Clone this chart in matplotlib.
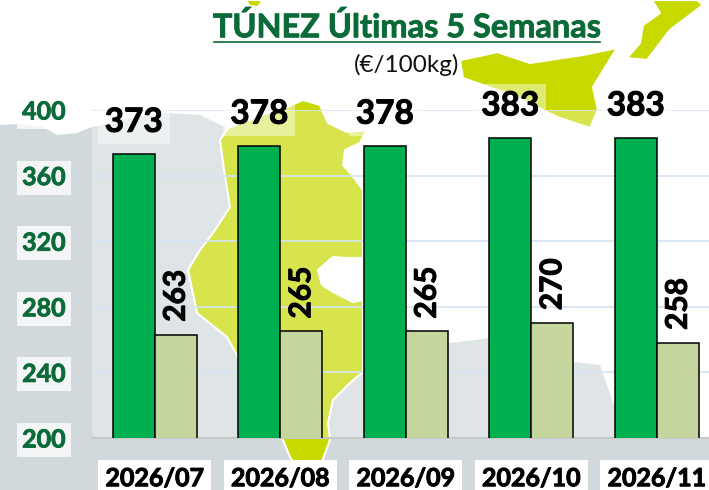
import matplotlib
matplotlib.use('Agg')
import matplotlib.pyplot as plt
import matplotlib.patheffects as pe
from matplotlib.patches import Polygon, Rectangle
import numpy as np

plt.rcParams['font.family'] = ['Lato', 'DejaVu Sans']

weeks = ['2026/07', '2026/08', '2026/09', '2026/10', '2026/11']
serie1 = [373, 378, 378, 383, 383]
serie2 = [263, 265, 265, 270, 258]
yticks = [200, 240, 280, 320, 360, 400]

GREEN = '#0B6B38'
GREY = '#D2D9DC'
LAND = '#C8D900'

# background map, in image pixels
west = [(0,125),(20,124),(43,127),(57,135),(77,133),(92,127),(130,118),(167,113),(200,115),(227,128),
        (300,300),(300,440),(0,490)]
libya = [(300,300),(360,325),(407,328),(450,343),(490,338),(530,350),(573,362),(600,365),(613,403),
         (650,437),(709,438),(709,490),(0,490),(0,300)]
tunisia = [(303,100),(320,105),(328,123),(347,132),(367,130),(360,143),(345,150),(343,165),(352,175),
           (363,190),(363,258),(345,258),(333,257),(318,270),(322,285),(335,293),(353,302),(363,300),
           (363,372),(350,383),(333,400),(328,423),(330,440),(320,467),(300,472),(290,457),(283,440),
           (262,400),(238,357),(227,337),(197,313),(188,270),(200,250),(213,233),(230,207),(224,170),
           (220,140),(228,128),(262,115),(285,108)]
sicily = [(460,60),(480,56),(497,52),(530,63),(583,55),(617,48),(593,87),(598,110),(590,128),(557,117),
          (517,97),(463,78)]
italy = [(652,0),(660,13),(643,25),(640,43),(627,58),(647,60),(670,30),(703,5),(697,0)]
islet = [(245,0),(250,6),(258,7),(263,0)]

fig = plt.figure(figsize=(7.09, 4.90), dpi=100)

bg = fig.add_axes([0, 0, 1, 1], zorder=0)
bg.set_xlim(0, 709)
bg.set_ylim(490, 0)
bg.axis('off')
bg.add_patch(Polygon(west, fc=GREY, ec='none'))
bg.add_patch(Polygon(libya, fc=GREY, ec='none'))
bg.add_patch(Rectangle((0, 438), 709, 52, fc=GREY, ec='none'))
for shape in [tunisia, sicily, italy, islet]:
    bg.add_patch(Polygon(shape, fc=LAND, ec='white', lw=1.5, joinstyle='round'))

ax = fig.add_axes([92/709, 52/490, 617/709, 328/490], zorder=1)
ax.set_facecolor((1, 1, 1, 0.3))
x = np.arange(len(weeks))
w = 0.335
bars1 = ax.bar(x - w/2, serie1, w, color='#00AF50', edgecolor='black', linewidth=1.1, zorder=3)
bars2 = ax.bar(x + w/2, serie2, w, color='#C4D69D', edgecolor='black', linewidth=1.1, zorder=3)

ax.set_xlim(-0.5, 4.416)
ax.set_ylim(200, 400)
ax.set_yticks(yticks)
ax.set_xticks(x)
ax.set_xticklabels(weeks, fontsize=18, fontweight='bold', color='black')
ax.set_yticklabels(yticks, fontsize=18, fontweight='bold', color=GREEN)
ax.tick_params(length=0)
ax.tick_params(axis='x', pad=21)
ax.tick_params(axis='y', pad=19)
ax.grid(axis='y', color='#D6E3F3', lw=1.2, zorder=1)
for s in ['top', 'right', 'left']:
    ax.spines[s].set_visible(False)
ax.spines['bottom'].set_color('#C8C8C8')
ax.spines['bottom'].set_linewidth(1.5)

# slightly thicker strokes, the source font is heavier
thick = [pe.withStroke(linewidth=0.7, foreground='black')]
thick_green = [pe.withStroke(linewidth=0.6, foreground=GREEN)]

for lab in ax.get_yticklabels():
    lab.set_bbox(dict(fc=(1, 1, 1, 0.75), ec='none', pad=4))
    lab.set_path_effects(thick_green)
for lab in ax.get_xticklabels():
    lab.set_bbox(dict(fc='white', ec='none', pad=5))
    lab.set_path_effects(thick)

for i, b in enumerate(bars1):
    ax.annotate(str(serie1[i]), (b.get_x() + b.get_width()/2, serie1[i]),
                xytext=(0, 23), textcoords='offset points', ha='center', va='center',
                fontsize=24, fontweight='bold', color='black', zorder=5, path_effects=thick,
                bbox=dict(fc=(1, 1, 1, 0.45), ec='none', pad=5), annotation_clip=False)
for i, b in enumerate(bars2):
    ax.annotate(str(serie2[i]), (b.get_x() + b.get_width()/2, serie2[i]),
                xytext=(0, 28), textcoords='offset points', ha='center', va='center',
                rotation=90, fontsize=21.5, fontweight='bold', color='black', zorder=5,
                path_effects=thick)

fig.text(407/709, 1 - 27/490, 'TÚNEZ Últimas 5 Semanas', ha='center', va='center',
         fontsize=23.4, fontweight='bold', color=GREEN, zorder=6, path_effects=thick_green)
fig.add_artist(plt.Line2D([214/709, 600/709], [1 - 42.5/490]*2, color=GREEN, lw=1.2, zorder=6))
fig.text(407/709, 1 - 65/490, '(€/100kg)', ha='center', va='center', fontsize=17.5,
         color='#111111', zorder=6)

fig.savefig('out.png', dpi=100)
